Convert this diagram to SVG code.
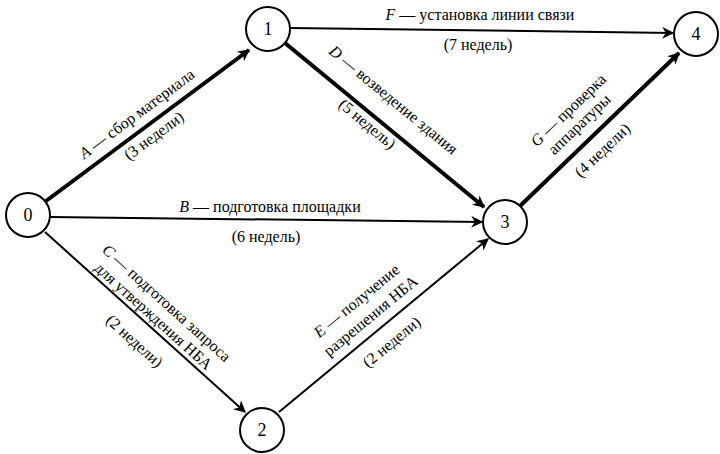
<svg xmlns="http://www.w3.org/2000/svg" width="720" height="454" viewBox="0 0 720 454">
<style>
text{font-family:"Liberation Serif","Times New Roman",serif;font-size:16px;fill:#000;text-anchor:middle}
.n circle{fill:#fff;stroke:#000;stroke-width:2}
.n text{font-size:18px}
.thin{stroke:#000;stroke-width:2;fill:none;marker-end:url(#a)}
.thick{stroke:#000;stroke-width:4;fill:none;marker-end:url(#a)}
</style>
<defs><marker id="a" viewBox="0 0 10 10" refX="9" refY="5" markerWidth="14" markerHeight="12" markerUnits="userSpaceOnUse" orient="auto"><path d="M0,0L10,5L0,10L3,5z" fill="#000"/></marker></defs>
<rect width="720" height="454" fill="#fff"/>
<g id="connectors">
<line class="thick" x1="46" y1="201" x2="249" y2="50"/>
<line class="thin" x1="290" y1="28" x2="673" y2="33"/>
<line class="thick" x1="285" y1="43" x2="484" y2="207"/>
<line class="thin" x1="50" y1="217" x2="482" y2="222"/>
<line class="thin" x1="45" y1="232" x2="245" y2="412"/>
<line class="thin" x1="279" y1="412" x2="488" y2="239"/>
<line class="thick" x1="520" y1="206" x2="679" y2="53"/>
<text transform="translate(140,118) rotate(-36.6)"><tspan font-style="italic">A</tspan> — сбор материала</text>
<text transform="translate(157,140) rotate(-36.6)">(3 недели)</text>
<text x="480" y="20"><tspan font-style="italic">F</tspan> — установка линии связи</text>
<text x="478" y="50">(7 недель)</text>
<text transform="translate(390,104) rotate(39.5)"><tspan font-style="italic">D</tspan> — возведение здания</text>
<text transform="translate(364,128) rotate(39.5)">(5 недель)</text>
<text x="270" y="212"><tspan font-style="italic">B</tspan> — подготовка площадки</text>
<text x="266" y="242">(6 недель)</text>
<text transform="translate(163,307) rotate(42)"><tspan font-style="italic">C</tspan> — подготовка запроса</text>
<text transform="translate(150,320) rotate(42)">для  утверждения НБА</text>
<text transform="translate(131,345) rotate(42)">(2 недели)</text>
<text transform="translate(360,305) rotate(-39.5)"><tspan font-style="italic">E</tspan> — получение</text>
<text transform="translate(374,320) rotate(-39.5)">разрешения НБА</text>
<text transform="translate(395,346) rotate(-39.5)">(2 недели)</text>
<text transform="translate(572,114) rotate(-43.7)"><tspan font-style="italic">G</tspan> — проверка</text>
<text transform="translate(583,128) rotate(-43.7)">аппаратуры</text>
<text transform="translate(606,154) rotate(-43.7)">(4 недели)</text>
</g>
<g id="n0" class="n"><circle cx="28" cy="215" r="22"/><text x="28" y="221">0</text></g>
<g id="n1" class="n"><circle cx="268" cy="29" r="22"/><text x="268" y="35">1</text></g>
<g id="n2" class="n"><circle cx="262" cy="430" r="22"/><text x="262" y="436">2</text></g>
<g id="n3" class="n"><circle cx="505" cy="222" r="22"/><text x="505" y="228">3</text></g>
<g id="n4" class="n"><circle cx="696" cy="34" r="22"/><text x="696" y="40">4</text></g>
</svg>
